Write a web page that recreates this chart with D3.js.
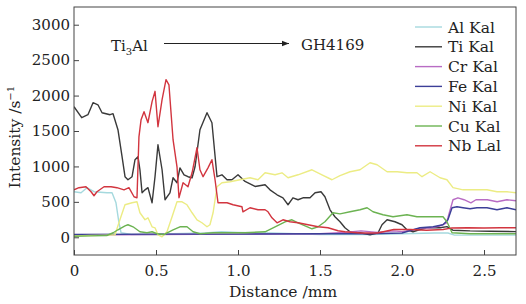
<!DOCTYPE html>
<html>
<head>
<meta charset="utf-8">
<script src="https://cdn.jsdelivr.net/npm/d3@7"></script>
<style>
  html, body { margin: 0; padding: 0; background: #fff; }
  svg { display: block; font-family: "DejaVu Serif", serif; }
</style>
</head>
<body>
<div id="chart"></div>
<script>
// Line-scan profiles: [distance mm, intensity s^-1]
const alKal = [[0,643],[0.043,628],[0.079,700],[0.122,643],[0.201,628],[0.232,628],[0.256,487],[0.274,205],[0.287,64],
  [0.35,40],[0.5,40],[0.6,50],[0.8,60],[0.9,80],[1.0,70],[1.2,60],[1.5,40],[1.8,40],[2.0,50],[2.2,60],[2.28,60],[2.32,30],[2.5,30],[2.695,30]];
const tiKal = [[0,1843],[0.047,1688],[0.085,1730],[0.116,1900],[0.146,1870],[0.171,1758],[0.22,1730],[0.238,1744],[0.268,1518],
  [0.293,1137],[0.311,855],[0.329,812],[0.354,855],[0.372,1095],[0.39,1137],[0.402,953],[0.415,628],[0.433,670],[0.451,700],
  [0.476,487],[0.494,855],[0.512,1306],[0.537,953],[0.555,530],[0.585,628],[0.604,840],[0.628,770],[0.646,980],[0.671,882],
  [0.695,855],[0.72,840],[0.738,995],[0.768,1518],[0.811,1758],[0.841,1617],[0.872,855],[0.902,882],[0.933,812],[0.963,812],
  [1.0,882],[1.043,788],[1.104,717],[1.165,741],[1.195,670],[1.238,600],[1.274,557],[1.305,459],[1.335,557],[1.366,530],
  [1.396,557],[1.439,557],[1.47,628],[1.506,643],[1.53,572],[1.561,388],[1.591,290],[1.622,219],[1.652,134],[1.683,78],
  [1.744,64],[1.805,35],[1.854,64],[1.878,177],[1.909,247],[1.957,219],[2.0,177],[2.03,106],[2.067,78],[2.11,110],[2.152,134],
  [2.232,134],[2.274,150],[2.31,100],[2.415,90],[2.537,85],[2.695,80]];
const crKal = [[0,30],[0.5,40],[1.0,45],[1.5,50],[1.65,70],[1.75,90],[1.85,70],[1.95,90],[2.0,80],[2.06,100],[2.11,130],
  [2.17,130],[2.23,160],[2.27,200],[2.28,275],[2.311,530],[2.341,557],[2.378,530],[2.42,487],[2.451,530],[2.52,530],
  [2.58,501],[2.64,530],[2.695,515]];
const feKal = [[0,40],[0.5,45],[1.0,45],[1.5,50],[1.8,50],[2.0,60],[2.11,134],[2.19,148],[2.25,177],[2.28,247],[2.305,417],
  [2.335,431],[2.372,417],[2.415,402],[2.457,417],[2.518,417],[2.579,388],[2.64,417],[2.695,388]];
const niKal = [[0,20],[0.1,25],[0.2,30],[0.25,35],[0.28,247],[0.311,459],[0.354,487],[0.384,501],[0.402,346],[0.433,247],
  [0.451,275],[0.476,148],[0.494,134],[0.512,35],[0.537,7],[0.567,78],[0.598,290],[0.628,501],[0.659,501],[0.689,459],
  [0.72,346],[0.75,247],[0.78,205],[0.811,148],[0.829,177],[0.848,346],[0.872,713],[0.902,770],[0.951,784],[1.012,812],
  [1.073,840],[1.122,812],[1.165,910],[1.226,882],[1.268,910],[1.305,840],[1.366,882],[1.451,953],[1.512,882],[1.573,812],
  [1.622,870],[1.683,925],[1.744,953],[1.805,1052],[1.848,1024],[1.909,925],[1.97,925],[2.03,910],[2.091,910],[2.122,855],
  [2.171,925],[2.232,840],[2.274,812],[2.311,700],[2.372,670],[2.433,670],[2.518,670],[2.579,643],[2.64,643],[2.695,628]];
const cuKal = [[0,15],[0.1,20],[0.2,25],[0.239,64],[0.268,106],[0.311,162],[0.329,177],[0.36,148],[0.402,78],[0.445,64],
  [0.476,78],[0.506,50],[0.55,40],[0.604,106],[0.646,148],[0.689,148],[0.726,78],[0.768,50],[0.848,64],[0.933,64],[1.043,64],
  [1.165,78],[1.226,148],[1.287,219],[1.329,247],[1.366,205],[1.409,162],[1.451,120],[1.488,148],[1.53,219],[1.579,346],
  [1.622,330],[1.683,360],[1.744,388],[1.787,417],[1.823,360],[1.884,318],[1.945,290],[2.03,318],[2.091,290],[2.152,290],
  [2.25,290],[2.274,219],[2.305,64],[2.415,50],[2.55,50],[2.695,50]];
const nbLal = [[0,670],[0.03,700],[0.073,713],[0.104,643],[0.122,586],[0.14,643],[0.183,713],[0.226,713],[0.262,700],
  [0.305,670],[0.335,700],[0.366,572],[0.384,557],[0.396,1418],[0.409,1660],[0.427,1772],[0.451,1617],[0.476,1914],
  [0.494,2060],[0.512,1560],[0.537,1942],[0.561,2224],[0.579,2150],[0.604,1377],[0.628,995],[0.64,557],[0.665,770],
  [0.695,713],[0.72,910],[0.75,1264],[0.768,953],[0.787,855],[0.817,980],[0.841,1095],[0.86,812],[0.878,487],[0.933,487],
  [0.97,459],[1.024,431],[1.03,360],[1.073,417],[1.122,388],[1.165,388],[1.183,360],[1.207,275],[1.238,205],[1.274,247],
  [1.317,219],[1.366,205],[1.427,177],[1.488,148],[1.549,134],[1.61,92],[1.652,78],[1.75,60],[1.85,60],[1.95,110],
  [2.05,110],[2.15,100],[2.25,110],[2.3,130],[2.4,135],[2.5,130],[2.6,135],[2.695,135]];

const seriesNames = ["Al Kal", "Ti Kal", "Cr Kal", "Fe Kal", "Ni Kal", "Cu Kal", "Nb Lal"];
const seriesData = [alKal, tiKal, crKal, feKal, niKal, cuKal, nbLal];
const seriesColors = ["#a5d9de", "#3a3a3a", "#b86cc4", "#3c3f98", "#ecec84", "#6cb352", "#d2353f"];
const xTicks = [0, 0.5, 1.0, 1.5, 2.0, 2.5];
const yTicks = [0, 500, 1000, 1500, 2000, 2500, 3000];

const W = 526, H = 304;
const margin = { top: 7, right: 10, bottom: 49, left: 74 };

const svg = d3.select("#chart").append("svg")
  .attr("width", W).attr("height", H);

const x = d3.scaleLinear().domain([0, 2.695]).range([margin.left, W - margin.right]);
const y = d3.scaleLinear().domain([-250, 3250]).range([H - margin.bottom, margin.top]);

svg.append("defs").append("clipPath").attr("id", "plot-clip")
  .append("rect")
  .attr("x", margin.left).attr("y", margin.top)
  .attr("width", W - margin.left - margin.right).attr("height", H - margin.top - margin.bottom);

// lines
const line = d3.line().x(d => x(d[0])).y(d => y(d[1]));
const gLines = svg.append("g").attr("clip-path", "url(#plot-clip)");
seriesData.forEach((s, i) => {
  gLines.append("path").datum(s)
    .attr("d", line)
    .attr("fill", "none")
    .attr("stroke", seriesColors[i])
    .attr("stroke-width", 1.4)
    .attr("stroke-linejoin", "round");
});

// frame + inward ticks
svg.append("rect")
  .attr("x", margin.left).attr("y", margin.top)
  .attr("width", W - margin.left - margin.right).attr("height", H - margin.top - margin.bottom)
  .attr("fill", "none").attr("stroke", "#444").attr("stroke-width", 1);

const xAxis = svg.append("g").attr("transform", `translate(0,${H - margin.bottom})`)
  .call(d3.axisBottom(x).tickValues(xTicks).tickSizeInner(-5).tickSizeOuter(0).tickPadding(10)
    .tickFormat(d => d === 0 ? "0" : d3.format(".1f")(d)));
const yAxis = svg.append("g").attr("transform", `translate(${margin.left},0)`)
  .call(d3.axisLeft(y).tickValues(yTicks).tickSizeInner(-5).tickSizeOuter(0).tickPadding(4)
    .tickFormat(d3.format("d")));
[xAxis, yAxis].forEach(a => {
  a.select(".domain").remove();
  a.selectAll("line").attr("stroke", "#444");
  a.selectAll("text").style("font-family", "DejaVu Serif, serif").style("font-size", "15px").attr("fill", "#222");
});

// axis titles
svg.append("text")
  .attr("x", 283).attr("y", 297).attr("text-anchor", "middle")
  .style("font-size", "15.5px").attr("fill", "#222")
  .text("Distance /mm");

const yt = svg.append("text")
  .attr("transform", "translate(20,137) rotate(-90)")
  .attr("text-anchor", "middle")
  .style("font-size", "15.5px").attr("fill", "#222");
yt.append("tspan").text("Intensity /s");
yt.append("tspan").attr("dy", -6).style("font-size", "10px").text("−1");

// annotation: Ti3Al ---> GH4169
svg.append("defs").append("marker")
  .attr("id", "arr").attr("viewBox", "0 -5 10 10")
  .attr("refX", 10).attr("refY", 0)
  .attr("markerWidth", 9).attr("markerHeight", 7).attr("orient", "auto")
  .attr("markerUnits", "userSpaceOnUse")
  .append("path").attr("d", "M0,-4L10,0L0,4Z").attr("fill", "#222");

const ann = svg.append("text").attr("x", 111).attr("y", 51)
  .style("font-size", "15px").attr("fill", "#222");
ann.append("tspan").text("Ti");
ann.append("tspan").attr("dy", 4).style("font-size", "10px").text("3");
ann.append("tspan").attr("dy", -4).text("Al");

svg.append("line")
  .attr("x1", 164).attr("x2", 289).attr("y1", 43.5).attr("y2", 43.5)
  .attr("stroke", "#222").attr("stroke-width", 1.1)
  .attr("marker-end", "url(#arr)");

svg.append("text").attr("x", 301).attr("y", 50)
  .style("font-size", "15px").attr("fill", "#222")
  .text("GH4169");

// legend
const leg = svg.append("g");
seriesNames.forEach((name, i) => {
  const ly = 27 + i * 19.8;
  leg.append("line")
    .attr("x1", 415).attr("x2", 442).attr("y1", ly).attr("y2", ly)
    .attr("stroke", seriesColors[i]).attr("stroke-width", 1.4);
  leg.append("text")
    .attr("x", 448).attr("y", ly + 5.5)
    .style("font-size", "15.5px").attr("fill", "#222")
    .text(name);
});
</script>
</body>
</html>
